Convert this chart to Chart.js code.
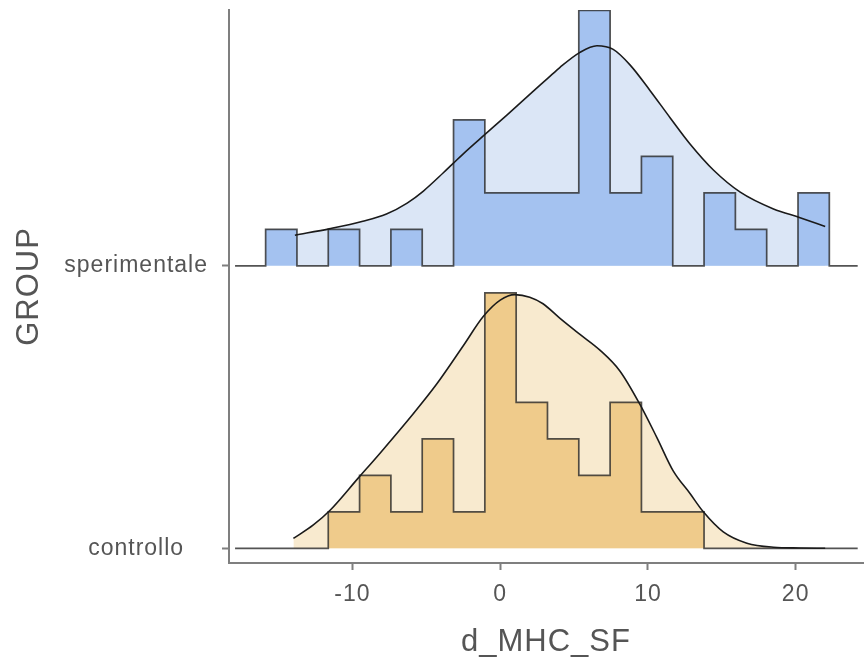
<!DOCTYPE html>
<html>
<head>
<meta charset="utf-8">
<script src="https://cdn.jsdelivr.net/npm/chart.js@4.4.0/dist/chart.umd.min.js"></script>
<style>
  html, body { margin: 0; padding: 0; background: #ffffff; }
  #chart { display: block; }
</style>
</head>
<body>
<canvas id="chart" width="865" height="668"></canvas>
<script>
// groups, from bottom ridge to top ridge
const groups = ['controllo', 'sperimentale'];

// histogram bin edges (same bins for both groups)
const binEdges = [-15.88, -13.76, -11.64, -9.52, -7.40, -5.28, -3.16, -1.04, 1.08, 3.20,
                  5.32, 7.44, 9.56, 11.68, 13.80, 15.92, 18.04, 20.16, 22.28];

// counts per bin
const countsControllo    = [0, 0, 1, 2, 1, 3, 1, 7, 4, 3, 2, 4, 1, 1, 0, 0, 0, 0];
const countsSperimentale = [1, 0, 1, 0, 1, 0, 4, 2, 2, 2, 7, 2, 3, 0, 2, 1, 0, 2];

// density curves, scaled to counts
const densSperX = [-13.9, -11.5, -9.3, -7.7, -6.3, -5.2, -3.85, -3.15, -2.5, -1.03, 0.45, 2.0, 3.25,
                   4.05, 5.4, 6.55, 7.65, 8.8, 10.15, 11.5, 12.85, 14.45, 16.25, 18.5, 20.3, 22.0];
const densSperY = [0.84, 1.02, 1.22, 1.42, 1.72, 2.05, 2.55, 2.82, 3.07, 3.6, 4.13, 4.7, 5.15,
                   5.44, 5.85, 6.03, 5.93, 5.5, 4.8, 4.06, 3.34, 2.62, 2.02, 1.56, 1.32, 1.08];

const densContrX = [-14.0, -12.65, -11.5, -9.6, -8.15, -5.9, -4.3, -2.5, -1.15, 0.0, 1.0, 2.0, 2.9,
                    4.05, 5.4, 6.75, 8.1, 9.45, 10.6, 11.7, 12.85, 13.75, 15.1, 16.7, 18.5, 20.3, 22.0];
const densContrY = [0.27, 0.64, 1.05, 1.93, 2.6, 3.68, 4.5, 5.55, 6.35, 6.8, 6.95, 6.88, 6.7,
                    6.3, 5.86, 5.43, 4.86, 3.95, 3.04, 2.13, 1.5, 1.0, 0.45, 0.14, 0.03, 0.01, 0.0];

const xTicks = [-10, 0, 10, 20];

// layout
const GROUP_GAP = 7.74;           // vertical distance between ridges, in count units
const LINE_START = -17.95;        // ridge baseline extent
const LINE_END = 24.2;
const FONT = '"Liberation Sans", Arial, sans-serif';
const AXIS_GREY = '#7f7f7f';
const TEXT_GREY = '#555555';

function histPoints(counts, base) {
    const pts = [{ x: LINE_START, y: base }];
    counts.forEach((c, i) => pts.push({ x: binEdges[i], y: base + c }));
    pts.push({ x: binEdges[binEdges.length - 1], y: base });
    pts.push({ x: LINE_END, y: base });
    return pts;
}

function densPoints(xs, ys, base) {
    return xs.map((x, i) => ({ x: x, y: base + ys[i] }));
}

const ridges = [
    { counts: countsControllo, dx: densContrX, dy: densContrY, bar: '#efcb8b', light: '#f8eacf' },
    { counts: countsSperimentale, dx: densSperX, dy: densSperY, bar: '#a4c2f0', light: '#dbe6f6' },
];

const datasets = [];
ridges.forEach((r, g) => {
    const base = g * GROUP_GAP;
    const dens = densPoints(r.dx, r.dy, base);
    // density outline, on top
    datasets.push({
        data: dens, order: 1, fill: false,
        borderColor: '#1a1a1a', borderWidth: 1.6,
        cubicInterpolationMode: 'monotone', pointRadius: 0,
    });
    // histogram
    datasets.push({
        data: histPoints(r.counts, base), order: 2, stepped: 'before',
        fill: { value: base }, backgroundColor: r.bar,
        borderColor: 'rgba(40,40,40,0.8)', borderWidth: 1.7, pointRadius: 0,
    });
    // density area, behind
    datasets.push({
        data: dens, order: 3, fill: { value: base },
        backgroundColor: r.light, borderWidth: 0,
        cubicInterpolationMode: 'monotone', pointRadius: 0,
    });
});

const spacing = {
    id: 'spacing',
    beforeLayout(chart) { chart.ctx.letterSpacing = '1px'; },
    beforeDraw(chart) { chart.ctx.letterSpacing = '1px'; },
};

const axisGrid = {
    display: true, drawOnChartArea: false, drawTicks: true,
    tickLength: 7, tickColor: AXIS_GREY, tickWidth: 2,
};
const axisBorder = { display: true, color: AXIS_GREY, width: 2 };

new Chart(document.getElementById('chart'), {
    type: 'line',
    data: { datasets: datasets },
    plugins: [spacing],
    options: {
        responsive: false,
        animation: false,
        events: [],
        layout: { padding: { top: 10, right: 2, left: 0, bottom: 0 } },
        plugins: { legend: { display: false }, tooltip: { enabled: false } },
        scales: {
            x: {
                type: 'linear', min: -18.36, max: 24.56,
                afterBuildTicks: (s) => { s.ticks = xTicks.map(v => ({ value: v })); },
                afterFit: (s) => { s.height = 105; s.paddingLeft = 0; s.paddingRight = 0; },
                grid: axisGrid, border: axisBorder,
                ticks: { color: TEXT_GREY, padding: 11, font: { family: FONT, size: 23 } },
                title: {
                    display: true, text: 'd_MHC_SF', color: TEXT_GREY,
                    font: { family: FONT, size: 31 }, padding: { top: 0, bottom: 7 },
                },
            },
            y: {
                type: 'linear', min: -0.403, max: 14.75,
                afterBuildTicks: (s) => { s.ticks = groups.map((g, i) => ({ value: i * GROUP_GAP })); },
                afterFit: (s) => { s.width = 229; s.paddingTop = 0; s.paddingBottom = 0; },
                grid: axisGrid, border: axisBorder,
                ticks: {
                    color: TEXT_GREY, padding: 14, crossAlign: 'center',
                    font: { family: FONT, size: 23 },
                    callback: (v, i) => groups[i],
                },
                title: {
                    display: true, text: 'GROUP', color: TEXT_GREY,
                    font: { family: FONT, size: 31 }, padding: { top: 11, bottom: 0 },
                },
            },
        },
    },
});
</script>
</body>
</html>
